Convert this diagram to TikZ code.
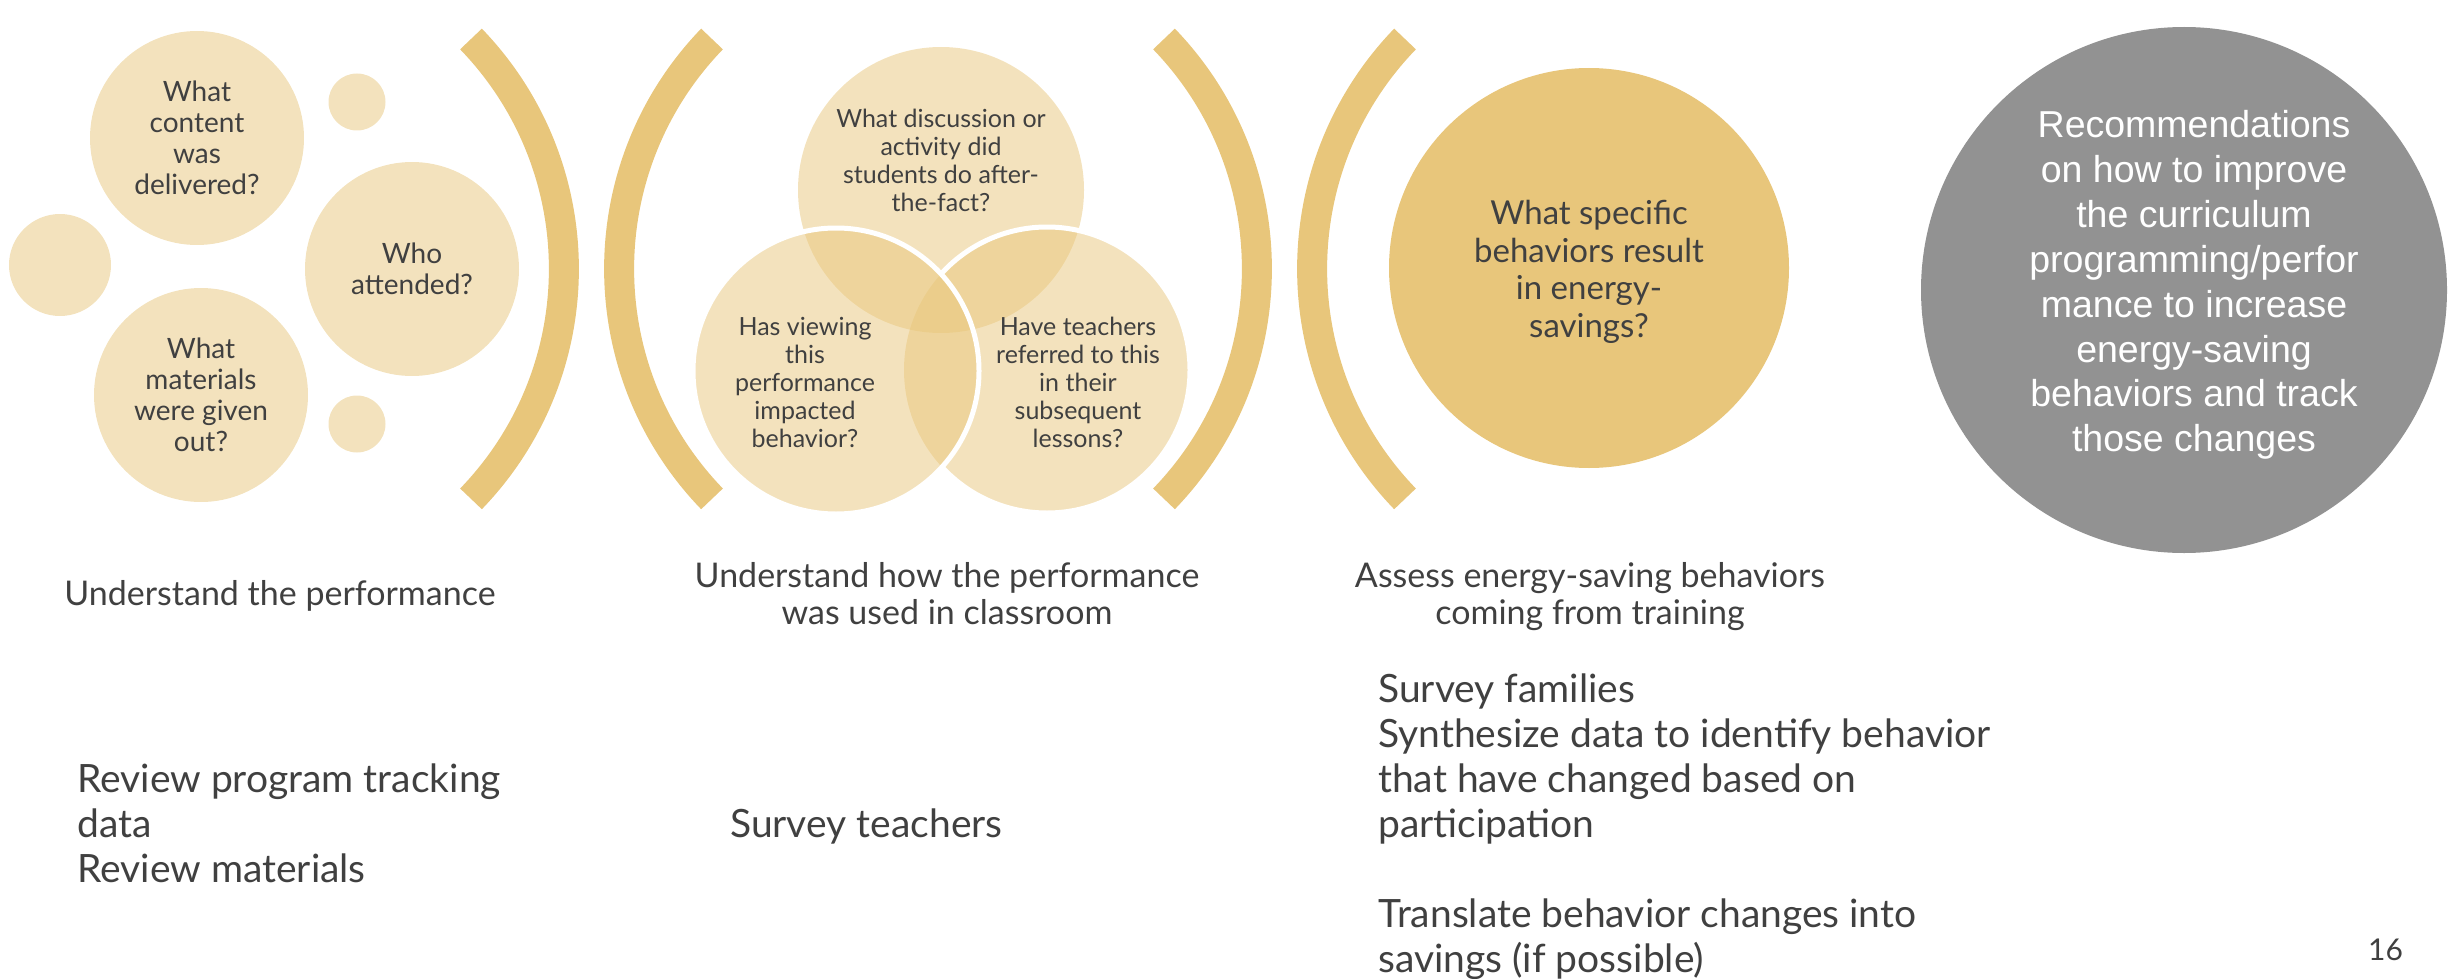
\documentclass[tikz,border=0pt]{standalone}
\usepackage{fontspec}
\setmainfont{Lato}
\newfontfamily\arialf{Liberation Sans}
\definecolor{gold}{RGB}{232,198,123}
\definecolor{goldlight}{RGB}{243,226,189}
\definecolor{txt}{RGB}{64,64,64}
\definecolor{recgray}{RGB}{146,146,146}
\begin{document}
\begin{tikzpicture}[x=1pt,y=-1pt,
  bubble/.style={circle, fill=goldlight, inner sep=0pt, text=txt, align=center, font=\fontsize{28}{31}\selectfont},
  venn/.style={circle, fill=gold, fill opacity=0.5, inner sep=0pt, minimum size=286pt},
  venntext/.style={text=txt, align=center, inner sep=0pt, font=\fontsize{25}{28}\selectfont},
  parenarc/.style={draw=gold, line width=30pt},
  head/.style={text=txt, align=center, inner sep=0pt, font=\fontsize{34}{37}\selectfont},
  body/.style={text=txt, align=left, inner sep=0pt, anchor=north west, font=\fontsize{39}{45}\selectfont},
  vennline/.style={draw=white, line width=5pt}]
\useasboundingbox (0,0) rectangle (2463,979);

% left group
\node[bubble, minimum size=214pt] (q1) at (197,138) {What\\content\\was\\delivered?};
\node[bubble, minimum size=57pt] (s1) at (357,102) {};
\node[bubble, minimum size=102pt] (s2) at (60,265) {};
\node[bubble, minimum size=214pt] (q2) at (412,269) {Who\\attended?};
\node[bubble, minimum size=214pt] (q3) at (201,395) {What\\materials\\were given\\out?};
\node[bubble, minimum size=57pt] (s3) at (357,424) {};

% parentheses
\draw[parenarc] (471,39) arc[start angle=44, end angle=-44, radius=331pt];
\draw[parenarc] (712,39) arc[start angle=136, end angle=224, radius=331pt];
\draw[parenarc] (1164,39) arc[start angle=44, end angle=-44, radius=331pt];
\draw[parenarc] (1405,39) arc[start angle=136, end angle=224, radius=331pt];

% venn
\node[venn] (vt) at (941,190) {};
\node[venn] (vr) at (1047,370) {};
\node[venn] (vl) at (836,371) {};
\begin{scope}[even odd rule]
  \clip (0,0) rectangle (2463,979) (vl.center) circle[radius=143pt];
  \draw[vennline] (vr.center) circle[radius=143pt];
\end{scope}
\draw[vennline] (vl.center) circle[radius=143pt];
\node[venntext] (vtt) at (941,160) {What discussion or\\activity did\\students do after-\\the-fact?};
\node[venntext] (vlt) at (805,382) {Has viewing\\this\\performance\\impacted\\behavior?};
\node[venntext] (vrt) at (1078,382) {Have teachers\\referred to this\\in their\\subsequent\\lessons?};

% energy circle
\node[circle, fill=gold, minimum size=400pt, inner sep=0pt] (q4) at (1589,268) {};
\node[text=txt, align=center, inner sep=0pt, font=\fontsize{33}{37.5}\selectfont] (q4t) at (1589,272)
  {What specific\\behaviors result\\in energy-\\savings?};

% recommendations
\node[circle, fill=recgray, minimum size=526pt, inner sep=0pt] (rec) at (2184,290) {};
\node[text=white, align=center, inner sep=0pt, font=\arialf\fontsize{37.5}{44.9}\selectfont] (rectext) at (2194,285)
  {Recommendations\\on how to improve\\the curriculum\\programming/perfor\\mance to increase\\energy-saving\\behaviors and track\\those changes};

% headers
\node[head, anchor=base] (h1) at (280,605) {Understand the performance};
\node[head, anchor=north] (h2) at (947,561) {\strut Understand how the performance\\was used in classroom};
\node[head, anchor=north] (h3) at (1590,561) {\strut Assess energy-saving behaviors\\coming from training};

% bodies
\node[body] (b1) at (77,760.5) {\strut Review program tracking\\data\\Review materials};
\node[body] (b2) at (730,805.5) {\strut Survey teachers};
\node[body] (b3) at (1378,670.5) {\strut Survey families\\Synthesize data to identify behavior\\that have changed based on\\participation\\[45pt]Translate behavior changes into\\savings (if possible)};

\node[text=txt, inner sep=0pt, anchor=base west, font=\fontsize{30}{36}\selectfont] (pg) at (2368,960) {16};
\end{tikzpicture}
\end{document}
